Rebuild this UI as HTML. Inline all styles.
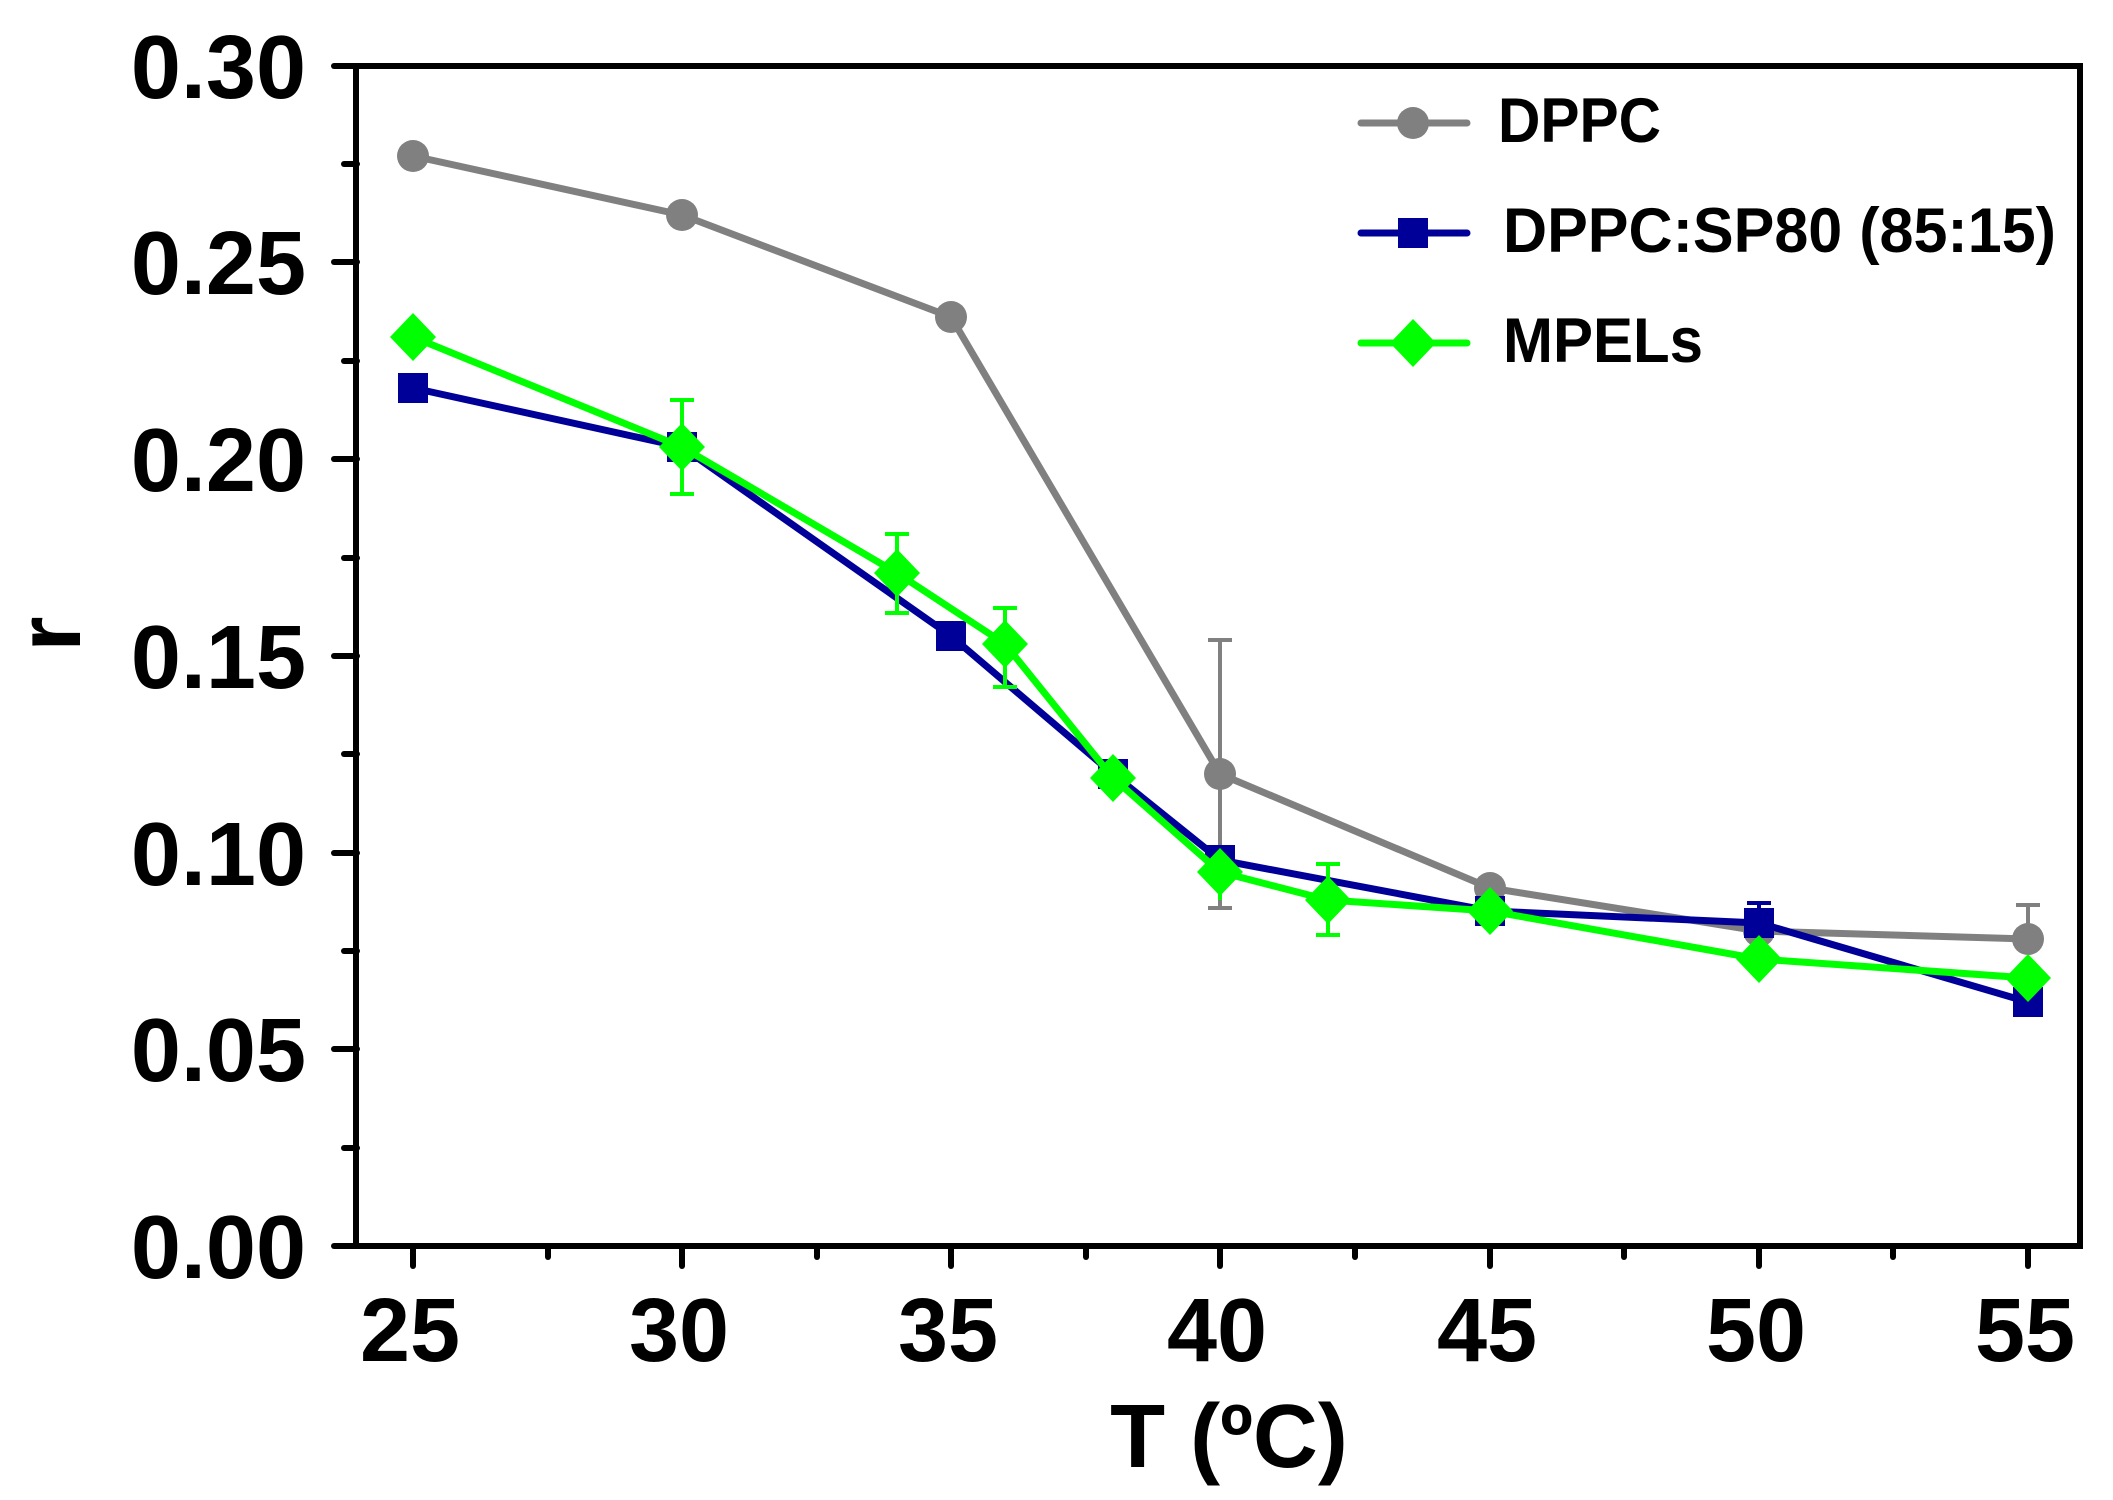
<!DOCTYPE html>
<html><head><meta charset="utf-8"><style>
html,body{margin:0;padding:0;background:#fff;}
svg{display:block;}
text{font-family:"Liberation Sans",Arial,sans-serif;font-weight:bold;fill:#000;}
</style></head><body>
<svg width="2113" height="1500" viewBox="0 0 2113 1500" xmlns="http://www.w3.org/2000/svg">
<rect x="356" y="66" width="1724" height="1180" fill="none" stroke="#000" stroke-width="6"/>
<g stroke="#000" stroke-width="6" stroke-linecap="round">
<line x1="334" y1="66" x2="357" y2="66"/><line x1="334" y1="262" x2="357" y2="262"/>
<line x1="334" y1="459" x2="357" y2="459"/><line x1="334" y1="656" x2="357" y2="656"/>
<line x1="334" y1="853" x2="357" y2="853"/><line x1="334" y1="1049" x2="357" y2="1049"/>
<line x1="334" y1="1246" x2="357" y2="1246"/>
<line x1="344" y1="164" x2="357" y2="164"/><line x1="344" y1="361" x2="357" y2="361"/>
<line x1="344" y1="558" x2="357" y2="558"/><line x1="344" y1="754" x2="357" y2="754"/>
<line x1="344" y1="951" x2="357" y2="951"/><line x1="344" y1="1148" x2="357" y2="1148"/>
<line x1="413" y1="1246" x2="413" y2="1266"/><line x1="682" y1="1246" x2="682" y2="1266"/>
<line x1="951" y1="1246" x2="951" y2="1266"/><line x1="1220" y1="1246" x2="1220" y2="1266"/>
<line x1="1490" y1="1246" x2="1490" y2="1266"/><line x1="1759" y1="1246" x2="1759" y2="1266"/>
<line x1="2028" y1="1246" x2="2028" y2="1266"/>
<line x1="548" y1="1246" x2="548" y2="1257"/><line x1="817" y1="1246" x2="817" y2="1257"/>
<line x1="1086" y1="1246" x2="1086" y2="1257"/><line x1="1355" y1="1246" x2="1355" y2="1257"/>
<line x1="1624" y1="1246" x2="1624" y2="1257"/><line x1="1893" y1="1246" x2="1893" y2="1257"/>
</g>
<g font-size="90" text-anchor="end">
<text x="306" y="98">0.30</text><text x="306" y="294">0.25</text>
<text x="306" y="491">0.20</text><text x="306" y="688">0.15</text>
<text x="306" y="885">0.10</text><text x="306" y="1081">0.05</text>
<text x="306" y="1278">0.00</text>
</g>
<g font-size="90" text-anchor="middle">
<text x="410" y="1361">25</text><text x="679" y="1361">30</text>
<text x="948" y="1361">35</text><text x="1217" y="1361">40</text>
<text x="1487" y="1361">45</text><text x="1756" y="1361">50</text>
<text x="2025" y="1361">55</text>
</g>
<text x="1229" y="1467" font-size="90" text-anchor="middle">T (ºC)</text>
<text transform="translate(80,634) rotate(-90)" font-size="90" text-anchor="middle">r</text>

<g stroke="#808080" stroke-width="4" fill="none">
<line x1="1220" y1="640" x2="1220" y2="908"/><line x1="1208" y1="640" x2="1232" y2="640"/><line x1="1208" y1="908" x2="1232" y2="908"/>
<line x1="2028" y1="905" x2="2028" y2="940"/><line x1="2016" y1="905" x2="2040" y2="905"/>
<polyline stroke-width="7" stroke-linejoin="round" points="413,156 682,215 951,317 1220,774 1490,888 1759,931 2028,939"/>
</g>
<g fill="#808080">
<circle cx="413" cy="156" r="16"/><circle cx="682" cy="215" r="16"/><circle cx="951" cy="317" r="16"/>
<circle cx="1220" cy="774" r="16"/><circle cx="1490" cy="888" r="16"/><circle cx="1759" cy="931" r="16"/><circle cx="2028" cy="939" r="16"/>
</g>

<g stroke="#000099" stroke-width="4" fill="none">
<line x1="1759" y1="903" x2="1759" y2="943"/><line x1="1747" y1="903" x2="1771" y2="903"/>
<polyline stroke-width="7" stroke-linejoin="round" points="413,388 682,447 951,636 1113,774 1220,860 1490,911 1759,923 2028,1002"/>
</g>
<g fill="#000099">
<rect x="398" y="373" width="30" height="30"/><rect x="667" y="432" width="30" height="30"/>
<rect x="936" y="621" width="30" height="30"/><rect x="1098" y="759" width="30" height="30"/>
<rect x="1205" y="845" width="30" height="30"/><rect x="1475" y="896" width="30" height="30"/>
<rect x="1744" y="908" width="30" height="30"/><rect x="2013" y="987" width="30" height="30"/>
</g>

<g stroke="#00ff00" stroke-width="4" fill="none">
<line x1="682" y1="400" x2="682" y2="494"/><line x1="670" y1="400" x2="694" y2="400"/><line x1="670" y1="494" x2="694" y2="494"/>
<line x1="897" y1="534" x2="897" y2="613"/><line x1="885" y1="534" x2="909" y2="534"/><line x1="885" y1="613" x2="909" y2="613"/>
<line x1="1005" y1="608" x2="1005" y2="687"/><line x1="993" y1="608" x2="1017" y2="608"/><line x1="993" y1="687" x2="1017" y2="687"/>
<line x1="1328" y1="864" x2="1328" y2="935"/><line x1="1316" y1="864" x2="1340" y2="864"/><line x1="1316" y1="935" x2="1340" y2="935"/>
<line x1="1220" y1="853" x2="1220" y2="900"/>
<polyline stroke-width="7" stroke-linejoin="round" points="413,337 682,447 897,573 1005,644 1113,778 1220,872 1328,900 1490,911 1759,959 2028,978"/>
</g>
<g fill="#00ff00">
<polygon points="413,313 436,337 413,361 390,337"/><polygon points="682,423 705,447 682,471 659,447"/>
<polygon points="897,549 920,573 897,597 874,573"/><polygon points="1005,620 1028,644 1005,668 982,644"/>
<polygon points="1113,754 1136,778 1113,802 1090,778"/><polygon points="1220,848 1243,872 1220,896 1197,872"/>
<polygon points="1328,876 1351,900 1328,924 1305,900"/><polygon points="1490,887 1513,911 1490,935 1467,911"/>
<polygon points="1759,935 1782,959 1759,983 1736,959"/><polygon points="2028,954 2051,978 2028,1002 2005,978"/>
</g>

<line x1="1361" y1="123" x2="1467" y2="123" stroke="#808080" stroke-width="7" stroke-linecap="round"/>
<line x1="1361" y1="233" x2="1467" y2="233" stroke="#000099" stroke-width="7" stroke-linecap="round"/>
<line x1="1361" y1="343" x2="1467" y2="343" stroke="#00ff00" stroke-width="7" stroke-linecap="round"/>
<circle cx="1413" cy="123" r="16" fill="#808080"/>
<rect x="1398" y="218" width="30" height="30" fill="#000099"/>
<polygon points="1413,319 1436,343 1413,367 1390,343" fill="#00ff00"/>
<g font-size="63">
<text x="1498" y="142" textLength="163" lengthAdjust="spacingAndGlyphs">DPPC</text>
<text x="1503" y="252" textLength="553" lengthAdjust="spacingAndGlyphs">DPPC:SP80 (85:15)</text>
<text x="1503" y="362" textLength="200" lengthAdjust="spacingAndGlyphs">MPELs</text>
</g>
</svg>
</body></html>
